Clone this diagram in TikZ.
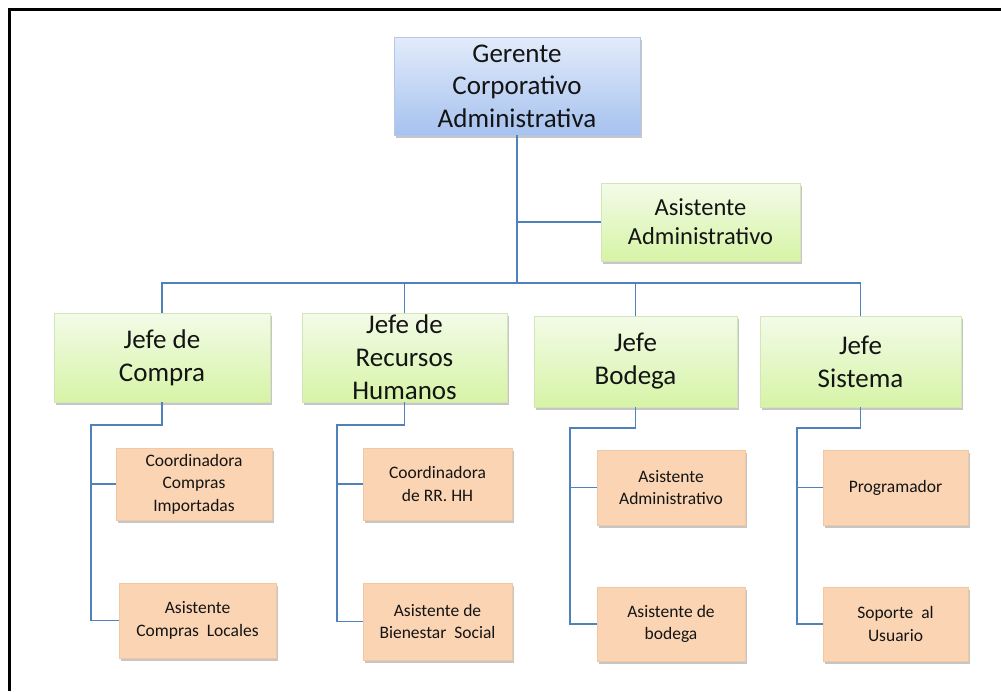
\documentclass[tikz,border=0pt]{standalone}
\usepackage{fontspec}
\setmainfont{Carlito}
\usetikzlibrary{shadows}
\definecolor{lineblue}{HTML}{4F81BD}
\definecolor{bluetop}{HTML}{E2EBFA}
\definecolor{bluebot}{HTML}{A6C2EF}
\definecolor{blueedge}{HTML}{B4C8E6}
\definecolor{greentop}{HTML}{F3FBE8}
\definecolor{greenbot}{HTML}{D6F4A6}
\definecolor{greenedge}{HTML}{D4E6B8}
\definecolor{orangefill}{HTML}{FBD5B3}
\definecolor{orangeedge}{HTML}{F1C8A4}
\definecolor{txt}{HTML}{141414}
\tikzset{
  boxshadow/.style={drop shadow={shadow xshift=1.5pt, shadow yshift=-2.5pt, opacity=0.45, fill=gray}},
  topbox/.style={boxshadow, draw=blueedge, line width=0.8pt, top color=bluetop, bottom color=bluebot,
    text=txt, align=center, inner sep=0pt, font=\fontsize{27}{32.5}\selectfont},
  headbox/.style={boxshadow, draw=greenedge, line width=0.8pt, top color=greentop, bottom color=greenbot,
    text=txt, align=center, inner sep=0pt, font=\fontsize{27}{33}\selectfont},
  asisbox/.style={headbox, font=\fontsize{24.5}{29}\selectfont},
  subbox/.style={boxshadow, draw=orangeedge, line width=0.6pt, fill=orangefill,
    text=txt, align=center, inner sep=0pt, font=\fontsize{17.5}{22.5}\selectfont},
  conn/.style={draw=lineblue, line width=1.8pt},
  frameline/.style={draw=black, line width=3pt}
}
\begin{document}
\begin{tikzpicture}[x=1pt,y=-1pt]
\useasboundingbox (0,0) rectangle (1001,691);
\draw[frameline] (9.5,691) -- (9.5,9.5) -- (1001,9.5);

% nodes
\node[topbox, minimum width=246pt, minimum height=98pt] (ger) at (517,86) {Gerente\\Corporativo\\Administrativa};
\node[asisbox, minimum width=199pt, minimum height=78pt] (asis) at (700.5,222) {Asistente\\Administrativo};
\node[headbox, minimum width=216pt, minimum height=89pt] (compra) at (162,357.5) {Jefe de\\Compra};
\node[headbox, minimum width=205pt, minimum height=89pt] (rrhh) at (404.5,357.5) {Jefe de\\Recursos\\Humanos};
\node[headbox, minimum width=203pt, minimum height=91pt] (bodega) at (635.5,361.5) {Jefe\\Bodega};
\node[headbox, minimum width=201pt, minimum height=91pt] (sistema) at (860.5,361.5) {Jefe\\Sistema};

\node[subbox, minimum width=156pt, minimum height=72pt] (cci) at (194,484) {Coordinadora\\Compras\\Importadas};
\node[subbox, minimum width=157pt, minimum height=75pt] (acl) at (197.5,620.5) {Asistente\\Compras~ Locales};
\node[subbox, minimum width=149pt, minimum height=72pt] (crh) at (437.5,484) {Coordinadora\\de RR. HH};
\node[subbox, minimum width=149pt, minimum height=77pt] (abs) at (437.5,621.5) {Asistente de\\Bienestar~ Social};
\node[subbox, minimum width=148pt, minimum height=75pt] (aab) at (671,487.5) {Asistente\\Administrativo};
\node[subbox, minimum width=148pt, minimum height=74pt] (adb) at (671,624) {Asistente de\\bodega};
\node[subbox, minimum width=145pt, minimum height=75pt] (prg) at (895.5,487.5) {Programador};
\node[subbox, minimum width=145pt, minimum height=74pt] (sau) at (895.5,624) {Soporte~ al\\Usuario};

% junctions
\coordinate (j0) at (517,283);
\coordinate (jc) at (91,425);
\coordinate (jr) at (337,425);
\coordinate (jb) at (570,428);
\coordinate (js) at (797,428);

% top connectors
\draw[conn] (ger.south) -- (j0);
\draw[conn] (ger.south |- asis.west) -- (asis.west);
\draw[conn] (compra.north) |- (j0) -| (sistema.north);
\draw[conn] (rrhh.north) -- (rrhh.north |- j0);
\draw[conn] (bodega.north) -- (bodega.north |- j0);

% compra
\draw[conn] (compra.south) |- (jc) |- (acl.west);
\draw[conn] (jc |- cci.west) -- (cci.west);
% rrhh
\draw[conn] (rrhh.south) |- (jr) |- (abs.west);
\draw[conn] (jr |- crh.west) -- (crh.west);
% bodega
\draw[conn] (bodega.south) |- (jb) |- (adb.west);
\draw[conn] (jb |- aab.west) -- (aab.west);
% sistema
\draw[conn] (sistema.south) |- (js) |- (sau.west);
\draw[conn] (js |- prg.west) -- (prg.west);
\end{tikzpicture}
\end{document}
